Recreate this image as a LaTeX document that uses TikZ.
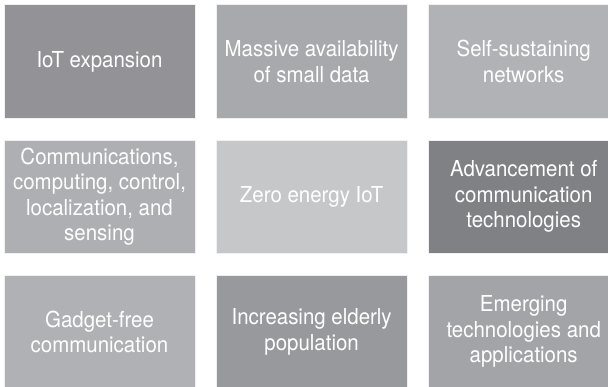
\documentclass[tikz,border=0pt]{standalone}
\usepackage{fontspec}
\setmainfont{TeX Gyre Heros}[FakeStretch=0.93]
\usetikzlibrary{positioning}
\definecolor{greyA}{HTML}{939397}
\definecolor{greyB}{HTML}{A8A9AC}
\definecolor{greyC}{HTML}{B1B2B5}
\definecolor{greyD}{HTML}{AEAFB2}
\definecolor{greyE}{HTML}{C6C7C9}
\definecolor{greyF}{HTML}{808184}
\definecolor{greyG}{HTML}{B0B1B4}
\definecolor{greyH}{HTML}{98999C}
\definecolor{greyI}{HTML}{A3A4A7}
\tikzstyle{tile} = [rectangle, minimum width = 191pt, minimum height = 113.5pt, inner sep = 0pt, align = center, text = white, draw = white!88!gray, line width = 0.6pt, font = \fontsize{22}{25.5}\selectfont]

\begin{document}
\begin{tikzpicture}[x = 1pt, y = -1pt, node distance = 21pt and 20.5pt]
        \useasboundingbox (0,0) rectangle (608,386);
        \node (iot)  [tile, fill = greyA] at (99.5,61.5) {IoT expansion};
        \node (mass) [tile, fill = greyB, right = of iot] {Massive availability\\of small data};
        \node (self) [tile, fill = greyC, right = of mass] {Self-sustaining\\networks};
        \node (comm) [tile, fill = greyD, below = of iot] {Communications,\\computing, control,\\localization, and\\sensing};
        \node (zero) [tile, fill = greyE, below = of mass] {Zero energy IoT};
        \node (adv)  [tile, fill = greyF, below = of self] {Advancement of\\communication\\technologies};
        \node (gad)  [tile, fill = greyG, below = of comm] {Gadget-free\\communication};
        \node (eld)  [tile, fill = greyH, below = of zero] {Increasing elderly\\population};
        \node (emg)  [tile, fill = greyI, below = of adv] {Emerging\\technologies and\\applications};
    \end{tikzpicture}
\end{document}
